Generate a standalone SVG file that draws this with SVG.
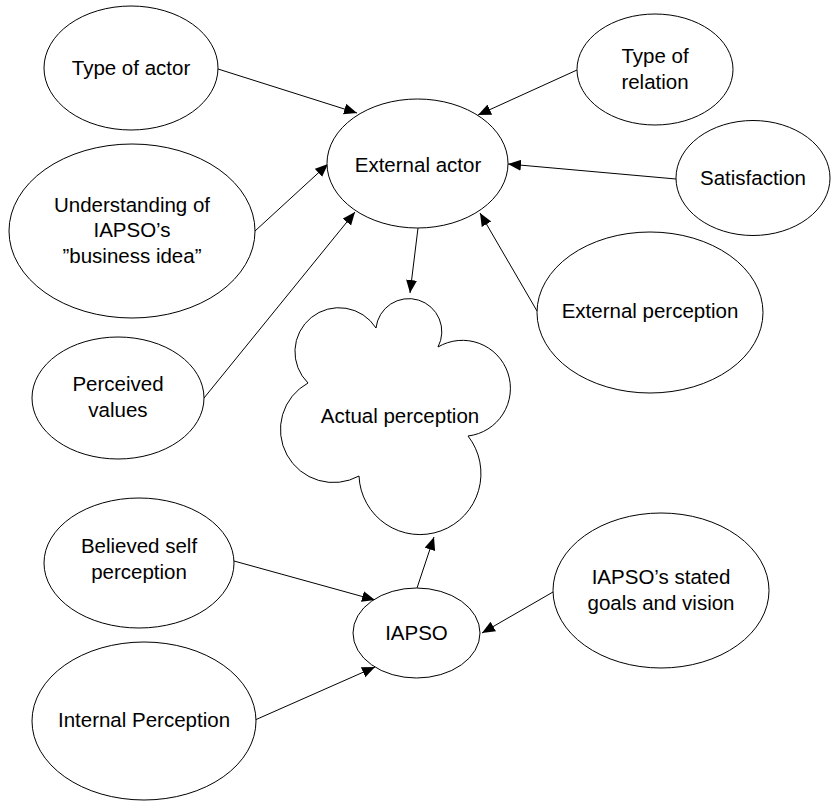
<svg xmlns="http://www.w3.org/2000/svg" width="832" height="801" viewBox="0 0 832 801">
<style>
.n{fill:#fff;stroke:#000;stroke-width:1}
.t{font-family:"Liberation Sans",Arial,sans-serif;font-size:20.5px;fill:#000;text-anchor:middle}
.c line{stroke:#000;stroke-width:1;marker-end:url(#a)}
</style>
<defs>
<marker id="a" markerUnits="userSpaceOnUse" markerWidth="14" markerHeight="13" refX="13" refY="5.5" orient="auto">
<path d="M0,0 L13,5.5 L0,11 Z" fill="#000"/>
</marker>
</defs>
<rect width="832" height="801" fill="#fff"/>
<g class="c" id="connectors">
<line x1="218" y1="69" x2="357" y2="113"/>
<line x1="577" y1="70" x2="478" y2="115"/>
<line x1="676" y1="179" x2="508" y2="164"/>
<line x1="255" y1="231" x2="328" y2="164"/>
<line x1="204" y1="398" x2="355" y2="212"/>
<line x1="537" y1="311" x2="480" y2="213"/>
<line x1="418" y1="228" x2="410" y2="293"/>
<line x1="417" y1="588" x2="434" y2="537"/>
<line x1="234" y1="561" x2="375" y2="600"/>
<line x1="255" y1="720" x2="375" y2="667"/>
<line x1="553" y1="592" x2="482" y2="633"/>
</g>
<g id="type-of-actor"><ellipse class="n" cx="131" cy="68" rx="87" ry="62"/><text class="t" x="131" y="75">Type of actor</text></g>
<g id="type-of-relation"><ellipse class="n" cx="655" cy="69.5" rx="78" ry="55.5"/><text class="t" x="655" y="63">Type of</text><text class="t" x="655" y="89">relation</text></g>
<g id="satisfaction"><ellipse class="n" cx="753" cy="178" rx="77" ry="57.5"/><text class="t" x="753" y="185">Satisfaction</text></g>
<g id="external-actor"><ellipse class="n" cx="417.5" cy="163.5" rx="90.5" ry="64.5"/><text class="t" x="418" y="172">External actor</text></g>
<g id="understanding"><ellipse class="n" cx="132" cy="231" rx="123" ry="87"/><text class="t" x="132" y="212">Understanding of</text><text class="t" x="132" y="237">IAPSO’s</text><text class="t" x="132" y="263">”business idea”</text></g>
<g id="perceived-values"><ellipse class="n" cx="118" cy="398" rx="86" ry="61"/><text class="t" x="118" y="391">Perceived</text><text class="t" x="118" y="417">values</text></g>
<g id="external-perception"><ellipse class="n" cx="650" cy="312.5" rx="113" ry="80.5"/><text class="t" x="650" y="318">External perception</text></g>
<g id="actual-perception"><path class="n" d="M376,328 A33,33 0 1 1 438,347 A48,48 0 1 1 468,436 A61,61 0 1 1 359,476 A52,52 0 1 1 308,383 A44,44 0 1 1 376,328 Z"/><text class="t" x="400" y="423">Actual perception</text></g>
<g id="believed-self-perception"><ellipse class="n" cx="139" cy="563" rx="95" ry="65"/><text class="t" x="139" y="553">Believed self</text><text class="t" x="139" y="579">perception</text></g>
<g id="internal-perception"><ellipse class="n" cx="144" cy="721" rx="112" ry="79"/><text class="t" x="144" y="727">Internal Perception</text></g>
<g id="iapso"><ellipse class="n" cx="416.5" cy="633" rx="63.5" ry="45"/><text class="t" x="416.5" y="640">IAPSO</text></g>
<g id="stated-goals"><ellipse class="n" cx="661" cy="590.5" rx="108" ry="77.5"/><text class="t" x="661" y="584">IAPSO’s stated</text><text class="t" x="661" y="610">goals and vision</text></g>
</svg>
